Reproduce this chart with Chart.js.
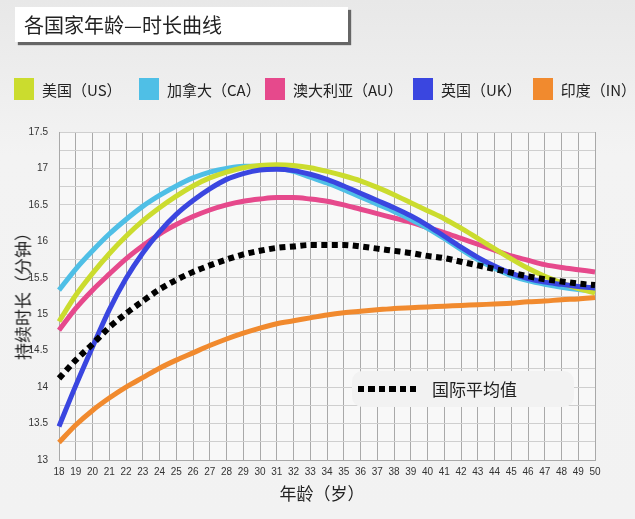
<!DOCTYPE html>
<html>
<head>
<meta charset="utf-8">
<script src="https://cdn.jsdelivr.net/npm/chart.js@4"></script>
<style>
  body { margin: 0; width: 635px; height: 519px; overflow: hidden;
         background: linear-gradient(#e8e8e8, #f3f3f3 30%, #f2f2f2);
         font-family: "Noto Sans CJK SC", "Noto Sans", sans-serif; }
  #wrap { position: relative; width: 635px; height: 519px; }
  #title { position: absolute; left: 15px; top: 7px; width: 333px; height: 35px;
           background: #fff; box-shadow: 3px 3px 1px #666;
           font-size: 20px; line-height: 35px; padding-left: 9px; box-sizing: border-box; color: #222; }
  .lg { position: absolute; top: 78px; height: 22px; display: flex; align-items: center; font-size: 15px; color: #222; }
  .lg span.sw { display: inline-block; width: 20px; height: 22px; margin-right: 8px; }
  canvas { position: absolute; left: 0; top: 0; }
  #ytitle { position: absolute; left: 22px; top: 292px; transform: translate(-50%, -50%) rotate(-90deg);
            font-size: 17px; white-space: nowrap; color: #222; }
  #xtitle { position: absolute; left: 322px; top: 492px; transform: translate(-50%, -50%);
            font-size: 17px; color: #222; }
  #avgbox { position: absolute; left: 352px; top: 371px; width: 222px; height: 36px;
            background: #f2f2f2; border-radius: 10px; }
  #avgdots { position: absolute; left: 6px; top: 15px; width: 60px; height: 6px;
             background: repeating-linear-gradient(90deg, #000 0 6px, transparent 6px 10.5px); }
  #avgtxt { position: absolute; left: 80px; top: 0; line-height: 36px; font-size: 17px; color: #222; }
</style>
</head>
<body>
<div id="wrap">
  <canvas id="ageChart" width="635" height="519"></canvas>
  <div id="title">各国家年龄—时长曲线</div>
  <div class="lg" style="left:14px"><span class="sw" style="background:#cbdc2e"></span>美国（US）</div>
  <div class="lg" style="left:139px"><span class="sw" style="background:#4fbfe6"></span>加拿大（CA）</div>
  <div class="lg" style="left:265px"><span class="sw" style="background:#e6498c"></span>澳大利亚（AU）</div>
  <div class="lg" style="left:413px"><span class="sw" style="background:#3a46e0"></span>英国（UK）</div>
  <div class="lg" style="left:533px"><span class="sw" style="background:#f18a2e"></span>印度（IN）</div>
  <div id="ytitle">持续时长（分钟）</div>
  <div id="xtitle">年龄（岁）</div>
  <div id="avgbox"><div id="avgdots"></div><div id="avgtxt">国际平均值</div></div>
</div>
<script>
  // ages on the x axis
  const ages = [18, 19, 20, 21, 22, 23, 24, 25, 26, 27, 28, 29, 30, 31, 32, 33, 34,
                35, 36, 37, 38, 39, 40, 41, 42, 43, 44, 45, 46, 47, 48, 49, 50];

  // duration (minutes)
  const usData = [14.90, 15.26, 15.56, 15.83, 16.07, 16.28, 16.46, 16.62, 16.76, 16.87, 16.95,
                  17.01, 17.04, 17.05, 17.04, 17.01, 16.96, 16.90, 16.83, 16.74, 16.64, 16.53,
                  16.42, 16.31, 16.18, 16.04, 15.90, 15.76, 15.63, 15.52, 15.43, 15.35, 15.29];
  const caData = [15.33, 15.62, 15.87, 16.10, 16.30, 16.48, 16.63, 16.76, 16.87, 16.95, 17.00,
                  17.03, 17.03, 17.01, 16.96, 16.88, 16.80, 16.71, 16.61, 16.51, 16.41, 16.30,
                  16.18, 16.04, 15.89, 15.75, 15.63, 15.53, 15.46, 15.41, 15.37, 15.34, 15.32];
  const auData = [14.78, 15.08, 15.33, 15.55, 15.76, 15.94, 16.10, 16.23, 16.34, 16.43, 16.50,
                  16.55, 16.58, 16.60, 16.60, 16.58, 16.55, 16.50, 16.44, 16.38, 16.32, 16.26,
                  16.19, 16.12, 16.04, 15.96, 15.88, 15.80, 15.74, 15.68, 15.64, 15.61, 15.58];
  const ukData = [13.46, 14.02, 14.55, 15.06, 15.49, 15.84, 16.13, 16.37, 16.56, 16.72, 16.85,
                  16.93, 16.98, 16.99, 16.97, 16.92, 16.85, 16.76, 16.66, 16.56, 16.46, 16.35,
                  16.22, 16.07, 15.92, 15.78, 15.66, 15.56, 15.49, 15.44, 15.41, 15.38, 15.36];
  const inData = [13.24, 13.48, 13.68, 13.85, 14.00, 14.13, 14.26, 14.37, 14.47, 14.57, 14.66,
                  14.74, 14.81, 14.87, 14.91, 14.95, 14.99, 15.02, 15.04, 15.06, 15.08, 15.09,
                  15.10, 15.11, 15.12, 15.13, 15.14, 15.15, 15.17, 15.18, 15.20, 15.21, 15.23];
  const avgData = [14.12, 14.37, 14.59, 14.82, 15.01, 15.18, 15.34, 15.47, 15.58, 15.67, 15.75,
                   15.82, 15.87, 15.91, 15.93, 15.95, 15.95, 15.95, 15.93, 15.90, 15.87, 15.84,
                   15.80, 15.77, 15.72, 15.67, 15.62, 15.57, 15.52, 15.48, 15.45, 15.42, 15.40];

  const yMin = 13, yMax = 17.5;

  function line(label, data, color, order) {
    return { label: label, data: data, borderColor: color, borderWidth: 5,
             pointRadius: 0, cubicInterpolationMode: 'monotone', fill: false, order: order };
  }

  // light plot background
  const plotBg = {
    id: 'plotBg',
    beforeDraw(chart) {
      const a = chart.chartArea, c = chart.ctx;
      c.save();
      c.fillStyle = '#f8f8f8';
      c.fillRect(a.left, a.top, a.right - a.left, a.bottom - a.top);
      c.restore();
    }
  };

  const ctx = document.getElementById('ageChart').getContext('2d');
  new Chart(ctx, {
    type: 'line',
    data: {
      labels: ages,
      datasets: [
        line('美国（US）', usData, '#cbdc2e', 3),
        line('加拿大（CA）', caData, '#4fbfe6', 4),
        line('澳大利亚（AU）', auData, '#e6498c', 5),
        line('英国（UK）', ukData, '#3a46e0', 2),
        line('印度（IN）', inData, '#f18a2e', 6),
        { label: '国际平均值', data: avgData, borderColor: '#000', borderWidth: 6,
          borderDash: [6, 4.5], borderCapStyle: 'butt', pointRadius: 0,
          cubicInterpolationMode: 'monotone', order: 0 }
      ]
    },
    options: {
      responsive: false,
      animation: false,
      layout: { padding: { top: 132, right: 40, left: 0, bottom: 0 } },
      plugins: { legend: { display: false }, tooltip: { enabled: false } },
      scales: {
        x: {
          offset: false,
          grid: { color: '#a9a9a9', lineWidth: 1, drawTicks: false },
          border: { color: '#a9a9a9' },
          ticks: { autoSkip: false, maxRotation: 0, padding: 6, color: '#333',
                   font: { size: 10, family: 'Liberation Sans' } },
          afterFit: function(scale) { scale.height = 59; }
        },
        y: {
          min: yMin, max: yMax,
          grid: { color: '#cfcfcf', lineWidth: 1, drawTicks: false },
          border: { color: '#a9a9a9' },
          ticks: { stepSize: 0.25, padding: 11, color: '#333',
                   font: { size: 10, family: 'Liberation Sans' },
                   callback: function(v) { return (v * 2) % 1 === 0 ? String(v) : ''; } },
          afterFit: function(scale) { scale.width = 59; }
        }
      }
    },
    plugins: [plotBg]
  });
</script>
</body>
</html>
